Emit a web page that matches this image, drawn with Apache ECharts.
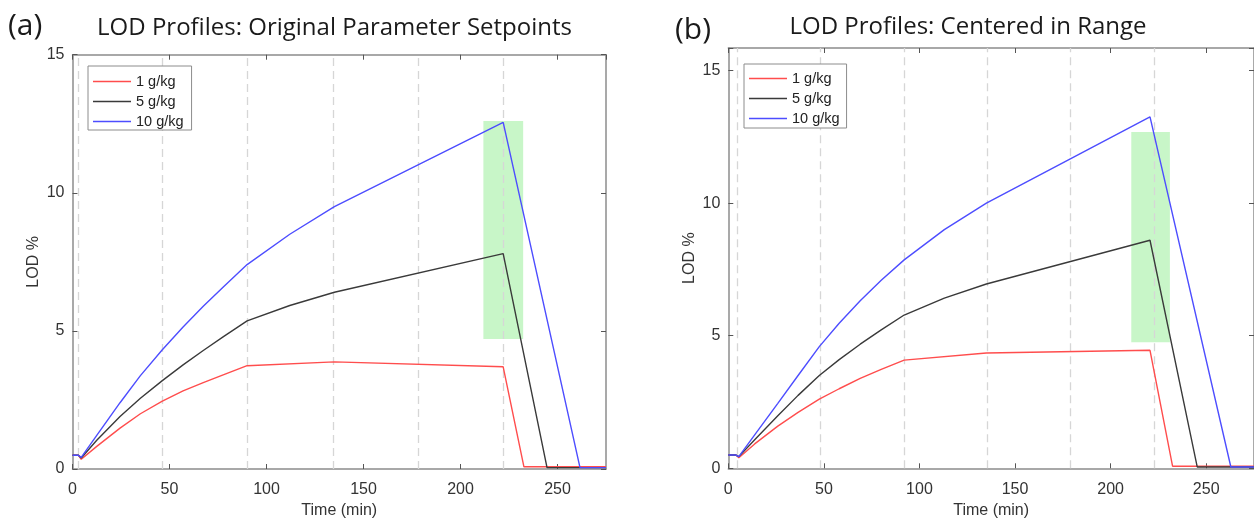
<!DOCTYPE html>
<html>
<head>
<meta charset="utf-8">
<script src="https://cdn.jsdelivr.net/npm/echarts@6/dist/echarts.min.js"></script>
<style>html,body{margin:0;padding:0;background:#fff;}#c{width:1254px;height:524px;}</style>
</head>
<body>
<div id="c"></div>
<script>
// ---------- DATA ----------
const seriesNames = ['1 g/kg', '5 g/kg', '10 g/kg'];
const xTicks = [0, 50, 100, 150, 200, 250];
const yTicks = [0, 5, 10, 15];

// Panel (a): Original Parameter Setpoints
const tA_red   = [0, 3, 4.5, 12.5, 24.5, 35, 46.3, 57, 67.4, 78, 90, 135, 222, 232.7, 275];
const lodA_red = [0.5, 0.5, 0.35, 0.82, 1.48, 2.0, 2.46, 2.83, 3.13, 3.42, 3.74, 3.88, 3.7, 0.08, 0.08];
const tA_black   = [0, 3, 4.5, 12.5, 24.5, 35, 46.3, 57, 67.4, 78, 90, 112, 135, 222, 244.6, 275];
const lodA_black = [0.5, 0.5, 0.4, 1.04, 1.9, 2.56, 3.2, 3.77, 4.29, 4.8, 5.36, 5.92, 6.4, 7.8, 0.05, 0.05];
const tA_blue   = [0, 3, 4.5, 12.5, 24.5, 35, 46.3, 57, 67.4, 78, 90, 112, 135, 222, 261.6, 275];
const lodA_blue = [0.5, 0.5, 0.42, 1.22, 2.4, 3.38, 4.32, 5.14, 5.89, 6.61, 7.4, 8.5, 9.5, 12.55, 0.05, 0.05];
const dashA = [3, 46.4, 90.3, 134.2, 178.1, 222];
const boxA = [211.8, 4.71, 232.3, 12.6];   // tStart, lodLow, tEnd, lodHigh

// Panel (b): Centered in Range
const tB_red   = [0, 4, 5.5, 13.8, 25.9, 36.5, 47.6, 58, 69, 80, 92, 135, 220.6, 232.4, 275];
const lodB_red = [0.5, 0.5, 0.4, 0.92, 1.59, 2.11, 2.61, 3.0, 3.39, 3.73, 4.08, 4.35, 4.45, 0.08, 0.08];
const tB_black   = [0, 4, 5.5, 13.8, 25.9, 36.5, 47.6, 58, 69, 80, 92, 113, 135, 220.6, 245.3, 275];
const lodB_black = [0.5, 0.5, 0.44, 1.08, 1.98, 2.75, 3.5, 4.1, 4.68, 5.22, 5.78, 6.42, 6.95, 8.6, 0.05, 0.05];
const tB_blue   = [0, 4, 5.5, 13.8, 25.9, 36.5, 47.6, 58, 69, 80, 92, 113, 135, 220.6, 262.9, 275];
const lodB_blue = [0.5, 0.5, 0.44, 1.26, 2.45, 3.5, 4.59, 5.47, 6.32, 7.09, 7.86, 9.0, 10.0, 13.25, 0.05, 0.05];
const dashB = [4.6, 48, 92, 135.5, 179, 222.6];
const boxB = [210.8, 4.75, 231, 12.68];

// ---------- CHART ----------
const colors = ['#ff4d4d', '#3a3a3a', '#4d4dff'];
const frameColor = '#8c8c8c';
const labelFont = '"Liberation Sans", Arial, sans-serif';
const titleFont = '"Open Sans", "Noto Sans", sans-serif';

const zip = (t, v) => t.map((x, i) => [x, v[i]]);

function xAxes(gi) {
  return [
    { gridIndex: gi, type: 'value', min: 0, max: 275, interval: 50, position: 'bottom',
      name: 'Time (min)', nameLocation: 'middle', nameGap: 34,
      nameTextStyle: { fontSize: 16, color: '#333', fontFamily: labelFont },
      axisLine: { show: true, onZero: false, lineStyle: { color: frameColor, width: 1.5 } },
      axisTick: { show: true, inside: true, length: 5, lineStyle: { color: '#555' } },
      axisLabel: { fontSize: 16, color: '#333', fontFamily: labelFont, margin: 13, showMaxLabel: false,
                   formatter: v => xTicks.includes(v) ? String(v) : '' },
      splitLine: { show: false } },
    { gridIndex: gi, type: 'value', min: 0, max: 275, interval: 50, position: 'top',
      axisLine: { show: true, onZero: false, lineStyle: { color: frameColor, width: 1.5 } },
      axisTick: { show: true, inside: true, length: 5, lineStyle: { color: '#555' } },
      axisLabel: { show: false }, splitLine: { show: false } }
  ];
}
function yAxes(gi, max) {
  return [
    { gridIndex: gi, type: 'value', min: 0, max: max, interval: 5, position: 'left',
      name: 'LOD %', nameLocation: 'middle', nameGap: 31,
      nameTextStyle: { fontSize: 16, color: '#333', fontFamily: labelFont },
      axisLine: { show: true, onZero: false, lineStyle: { color: frameColor, width: 1.5 } },
      axisTick: { show: true, inside: true, length: 5, lineStyle: { color: '#555' } },
      axisLabel: { fontSize: 16, color: '#333', fontFamily: labelFont, margin: 8,
                   formatter: v => yTicks.includes(v) ? String(v) : '' },
      splitLine: { show: false } },
    { gridIndex: gi, type: 'value', min: 0, max: max, interval: 5, position: 'right',
      axisLine: { show: true, onZero: false, lineStyle: { color: frameColor, width: 1.5 } },
      axisTick: { show: true, inside: true, length: 5, lineStyle: { color: '#555' } },
      axisLabel: { show: false }, splitLine: { show: false } }
  ];
}

function panelSeries(gi, ts, vs, dashes, box) {
  return ts.map((t, k) => {
    const s = {
      name: seriesNames[k], type: 'line', xAxisIndex: gi * 2, yAxisIndex: gi * 2,
      data: zip(t, vs[k]), symbol: 'none', showSymbol: false, smooth: false,
      lineStyle: { color: colors[k], width: 1.4 }, itemStyle: { color: colors[k] },
      z: 3 + k, animation: false
    };
    if (k === 0) {
      s.markLine = {
        silent: true, symbol: 'none', z: 1, animation: false,
        label: { show: false },
        lineStyle: { type: [8, 5], color: '#d6d6d6', width: 1.3 },
        data: dashes.map(d => ({ xAxis: d }))
      };
      s.markArea = {
        silent: true, z: 0, animation: false,
        itemStyle: { color: 'rgba(110,232,110,0.38)' },
        data: [[{ xAxis: box[0], yAxis: box[1] }, { xAxis: box[2], yAxis: box[3] }]]
      };
    }
    return s;
  });
}

const legendBase = {
  orient: 'vertical', icon: 'rect', itemWidth: 38, itemHeight: 1.6, itemGap: 5,
  borderColor: '#8c8c8c', borderWidth: 1, backgroundColor: '#fff', borderRadius: 0,
  textStyle: { fontSize: 14.5, color: '#222', fontFamily: labelFont, lineHeight: 15 },
  data: seriesNames, selectedMode: false
};

const option = {
  animation: false,
  grid: [
    { left: 72.5, top: 54.7, width: 533.5, height: 417, containLabel: false },
    { left: 728.3, top: 48, width: 532, height: 420.3, containLabel: false }
  ],
  xAxis: [...xAxes(0), ...xAxes(1)],
  yAxis: [...yAxes(0, 15), ...yAxes(1, 15.85)],
  legend: [
    Object.assign({}, legendBase, { left: 88, top: 66, padding: [8, 8, 1, 5] }),
    Object.assign({}, legendBase, { left: 744, top: 64, padding: [7, 7, 2, 5] })
  ],
  graphic: [
    { type: 'text', left: 8, top: 11, style: { text: '(a)', font: '30px ' + titleFont, fill: '#1a1a1a' } },
    { type: 'text', x: 334.5, y: 28, style: { text: 'LOD Profiles: Original Parameter Setpoints', font: '24px ' + titleFont, fill: '#1a1a1a', textAlign: 'center', textVerticalAlign: 'middle' } },
    { type: 'text', left: 675, top: 15, style: { text: '(b)', font: '30px ' + titleFont, fill: '#1a1a1a' } },
    { type: 'text', x: 968, y: 27, style: { text: 'LOD Profiles: Centered in Range', font: '24px ' + titleFont, fill: '#1a1a1a', textAlign: 'center', textVerticalAlign: 'middle' } }
  ],
  series: [
    ...panelSeries(0, [tA_red, tA_black, tA_blue], [lodA_red, lodA_black, lodA_blue], dashA, boxA),
    ...panelSeries(1, [tB_red, tB_black, tB_blue], [lodB_red, lodB_black, lodB_blue], dashB, boxB)
  ]
};

const chart = echarts.init(document.getElementById('c'), null, { renderer: 'canvas' });
chart.setOption(option);
</script>
</body>
</html>
